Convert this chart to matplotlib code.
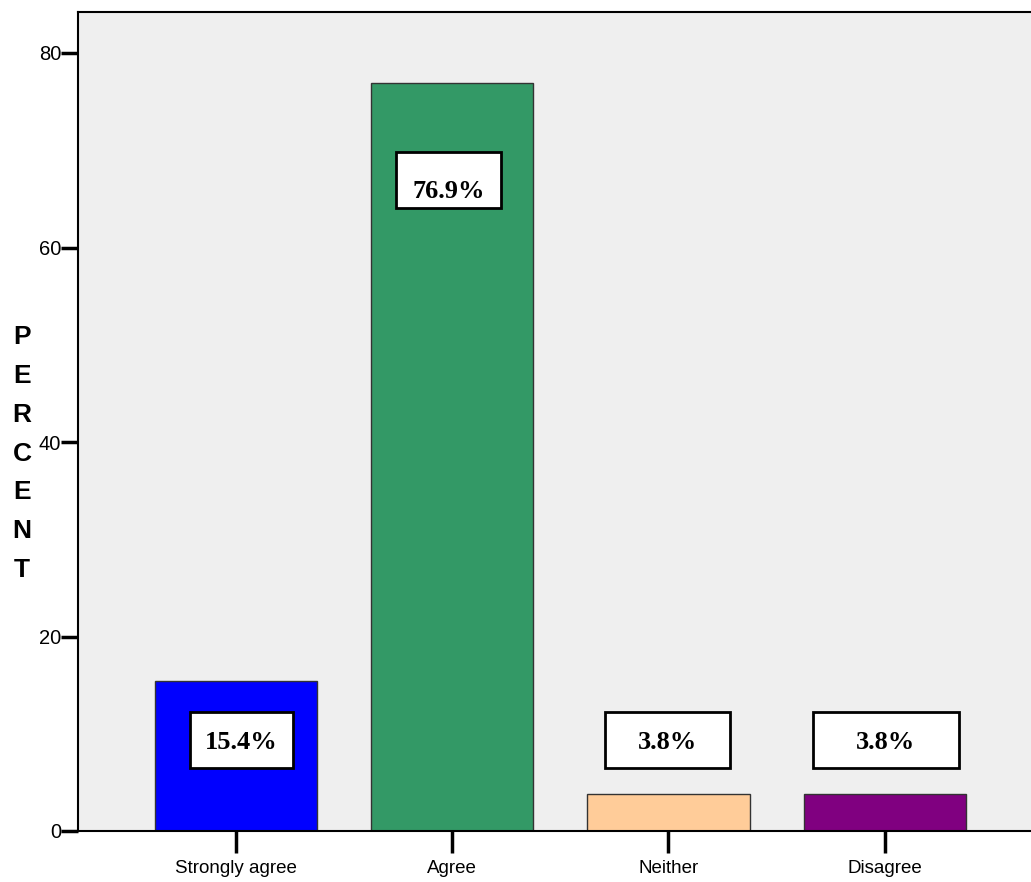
import matplotlib
matplotlib.use("Agg")
import matplotlib.pyplot as plt
from matplotlib.patches import Rectangle

categories = ["Strongly agree", "Agree", "Neither", "Disagree"]
percents = [15.4, 76.9, 3.8, 3.8]
labels = ["15.4%", "76.9%", "3.8%", "3.8%"]
colors = ["#0000ff", "#339966", "#ffcc99", "#800080"]
yticks = [0, 20, 40, 60, 80]

W, H = 1031, 882
fig = plt.figure(figsize=(W / 100, H / 100), dpi=100)
ax_left, ax_bottom = 78 / W, 1 - 831 / H
ax = fig.add_axes([ax_left, ax_bottom, 1 - ax_left + 0.01, (831 - 12) / H])
ax.set_facecolor("#efefef")

x = list(range(len(categories)))
ax.bar(x, percents, width=0.751, color=colors, edgecolor="#333333", linewidth=1.0, zorder=2)

# label boxes (centre x, centre y, width, height in data units)
box_cx = [0.025, 0.984, 1.994, 3.005]
box_w = [0.476, 0.485, 0.578, 0.675]
box_h = 5.76
for i, lab in enumerate(labels):
    tall = percents[i] > 50
    cy = percents[i] - 10 if tall else 9.33
    r = Rectangle((box_cx[i] - box_w[i] / 2, cy - box_h / 2), box_w[i], box_h,
                  facecolor="white", edgecolor="black", linewidth=2, zorder=3)
    ax.add_patch(r)
    ty = cy - (1.1 if tall else 0.2)
    t = ax.text(box_cx[i], ty, lab, ha="center", va="center", fontsize=19,
                fontweight="bold", family="Liberation Serif", zorder=4)
    if tall:
        t.set_clip_path(r)

ax.set_xlim(-0.730, 3.674 + 0.05)
ax.set_ylim(0, (831 - 12) / 9.725)
ax.set_xticks(x)
ax.set_xticklabels(categories, family="Liberation Sans", fontsize=13.5)
ax.set_yticks(yticks)
ax.set_yticklabels([str(v) for v in yticks], family="Liberation Sans", fontsize=14.5)
ax.tick_params(axis="x", length=16, width=2.5, pad=5, direction="out")
ax.tick_params(axis="y", length=12, width=2.5, pad=0, direction="out")
for s in ["left", "bottom", "top"]:
    ax.spines[s].set_linewidth(1.5)
ax.spines["right"].set_visible(False)

# vertical stacked y label
for k, ch in enumerate("PERCENT"):
    yc = 337.5 + k * 38.7
    fig.text(22 / W, 1 - yc / H, ch, ha="center", va="center", fontsize=19,
             fontweight="bold", family="Liberation Sans")

fig.savefig("out.png", dpi=100)
